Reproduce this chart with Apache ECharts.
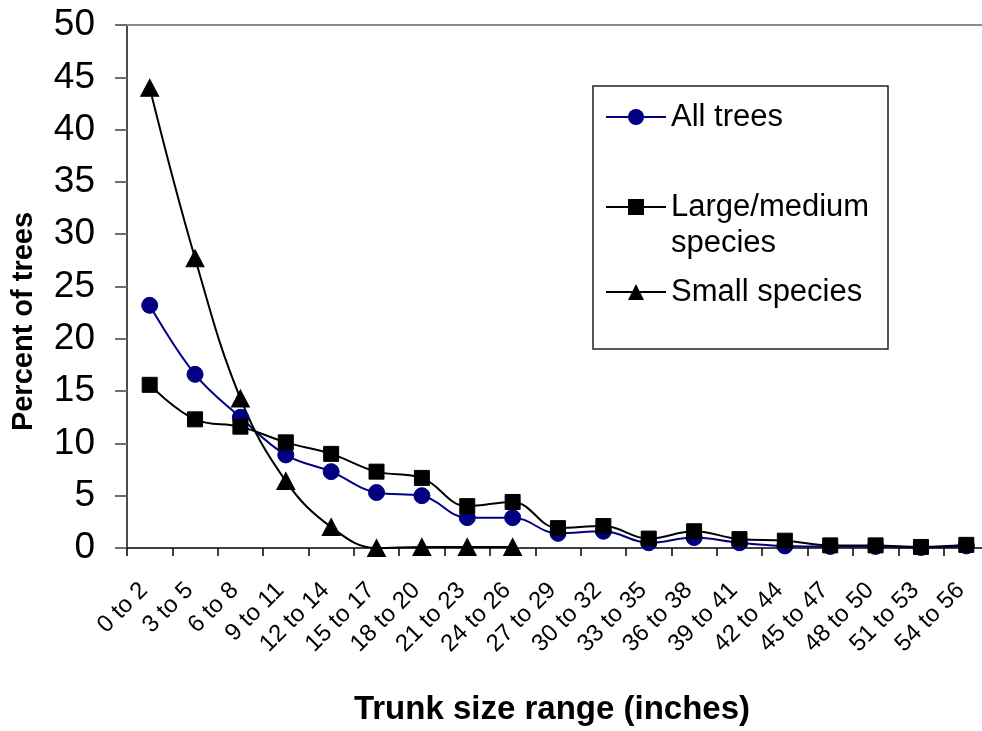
<!DOCTYPE html>
<html>
<head>
<meta charset="utf-8">
<script src="https://cdn.jsdelivr.net/npm/echarts@6/dist/echarts.min.js"></script>
<style>
  html, body { margin: 0; padding: 0; background: #fff; overflow: hidden; width: 982px; height: 731px; }
  #chart { width: 1000px; height: 731px; }
</style>
</head>
<body>
<div id="chart"></div>
<script>
var categories = ['0 to 2','3 to 5','6 to 8','9 to 11','12 to 14','15 to 17','18 to 20','21 to 23','24 to 26','27 to 29','30 to 32','33 to 35','36 to 38','39 to 41','42 to 44','45 to 47','48 to 50','51 to 53','54 to 56'];
var allTrees = [23.2, 16.6, 12.5, 8.9, 7.3, 5.3, 5.0, 2.9, 2.9, 1.4, 1.6, 0.5, 1.0, 0.5, 0.2, 0.15, 0.15, 0.05, 0.2];
var largeMedium = [15.6, 12.3, 11.6, 10.1, 9.0, 7.3, 6.7, 4.0, 4.4, 1.9, 2.1, 0.9, 1.6, 0.85, 0.7, 0.25, 0.25, 0.1, 0.3];
var smallSpecies = [44.0, 27.7, 14.3, 6.4, 2.0, 0, 0.1, 0.1, 0.1, null, null, null, null, null, null, null, null, null, null];
var yTicks = { min: 0, max: 50, interval: 5 };

var FONT = "'Liberation Sans', Arial, sans-serif";
var chart = echarts.init(document.getElementById('chart'));

var legendText = { fontFamily: FONT, fontSize: 31, lineHeight: 36, color: '#000' };

chart.setOption({
  backgroundColor: '#fff',
  animation: false,
  grid: { left: 127, top: 25, right: 11, bottom: 181, containLabel: false },
  graphic: [{
    type: 'rect', z: 1,
    shape: { x: 593, y: 86, width: 295, height: 263 },
    style: { fill: 'none', stroke: '#222', lineWidth: 1.5 }
  }],
  legend: [
    { left: 605, top: 99, itemWidth: 60, itemHeight: 20, padding: 0, data: ['All trees'], textStyle: legendText },
    { left: 605, top: 153, itemWidth: 60, itemHeight: 20, padding: 0, data: ['Large/medium species'],
      formatter: function () { return '\nLarge/medium\nspecies'; },
      textStyle: legendText },
    { left: 605, top: 274, itemWidth: 60, itemHeight: 20, padding: 0, data: ['Small species'], textStyle: legendText }
  ],
  xAxis: [{
    type: 'category',
    data: categories,
    boundaryGap: true,
    position: 'bottom',
    axisLine: { show: true, lineStyle: { color: '#000', width: 1.5 } },
    axisTick: { show: true, length: 8, inside: false, alignWithLabel: false, lineStyle: { color: '#000', width: 1.5 } },
    axisLabel: { interval: 0, rotate: 45, fontSize: 24, fontFamily: FONT, color: '#000', margin: 33, padding: [0, 8, 0, 0] },
    splitLine: { show: false },
    name: 'Trunk size range (inches)',
    nameLocation: 'middle',
    nameGap: 145,
    nameTextStyle: { fontFamily: FONT, fontSize: 33, fontWeight: 'bold', color: '#000', padding: [0, 12, 0, 0] }
  }, {
    type: 'category',
    data: categories,
    position: 'top',
    axisLine: { show: true, lineStyle: { color: '#8c8c8c', width: 2 } },
    axisTick: { show: false },
    axisLabel: { show: false },
    splitLine: { show: false }
  }],
  yAxis: {
    type: 'value',
    min: yTicks.min, max: yTicks.max, interval: yTicks.interval,
    axisLine: { show: true, lineStyle: { color: '#4d4d4d', width: 2 } },
    axisTick: { show: true, length: 12, inside: false, lineStyle: { color: '#6e6e6e', width: 2 } },
    axisLabel: { fontSize: 37, fontFamily: FONT, color: '#000', margin: 32 },
    splitLine: { show: false },
    name: 'Percent of trees',
    nameLocation: 'middle',
    nameGap: 89,
    nameTextStyle: { fontFamily: FONT, fontSize: 29, fontWeight: 'bold', color: '#000', padding: [0, 70, 0, 0] }
  },
  series: [{
    name: 'All trees',
    type: 'line',
    data: allTrees,
    smooth: 0.4,
    symbol: 'circle',
    symbolSize: 16,
    lineStyle: { color: '#000080', width: 2 },
    itemStyle: { color: '#000080', borderColor: '#000080' }
  }, {
    name: 'Large/medium species',
    type: 'line',
    data: largeMedium,
    smooth: 0.4,
    symbol: 'rect',
    symbolSize: 15,
    lineStyle: { color: '#000', width: 2 },
    itemStyle: { color: '#000', borderColor: '#000' }
  }, {
    name: 'Small species',
    type: 'line',
    data: smallSpecies,
    smooth: 0.4,
    symbol: 'triangle',
    symbolSize: [18, 17],
    lineStyle: { color: '#000', width: 2 },
    itemStyle: { color: '#000', borderColor: '#000' }
  }]
});
</script>
</body>
</html>
